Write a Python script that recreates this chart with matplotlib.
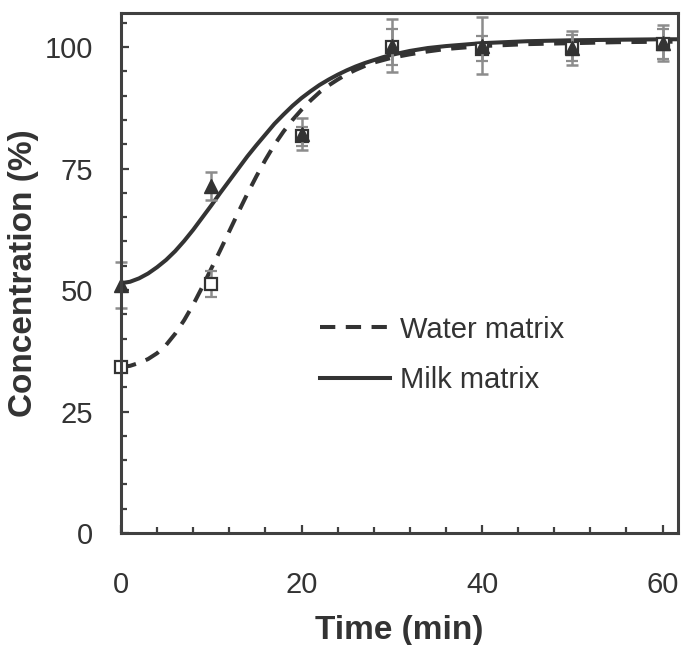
import matplotlib.pyplot as plt
from matplotlib.ticker import MultipleLocator

plt.rcParams['font.family'] = ['Liberation Sans', 'DejaVu Sans']

# sampled times
t_pts = [0, 10, 20, 30, 40, 50, 60]
water_pts = [34.2, 51.3, 81.6, 100.0, 99.7, 99.8, 100.6]
water_err = [1.0, 2.7, 1.9, 3.7, 2.6, 2.7, 3.1]
milk_pts = [51.0, 71.4, 82.1, 100.3, 100.3, 99.9, 100.9]
milk_err = [4.7, 2.8, 3.2, 5.4, 5.8, 3.5, 3.7]

# fitted curves
t_fit = list(range(0, 31)) + [32, 34, 36, 38, 40, 45, 50, 55, 60, 61.7]
water_fit = [34.2, 34.4, 35.0, 35.8, 37.0, 38.7, 41.0, 43.8, 47.0, 50.6,
             54.4, 58.2, 62.1, 66.0, 69.8, 73.4, 76.8, 79.9, 82.6, 85.0,
             87.1, 89.0, 90.7, 92.1, 93.3, 94.4, 95.3, 96.1, 96.8, 97.3,
             97.8, 98.5, 99.1, 99.6, 99.9, 100.2, 100.6, 100.8, 101.0, 101.1, 101.1]
milk_fit = [51.4, 51.7, 52.4, 53.4, 54.7, 56.2, 58.0, 60.1, 62.4, 64.9,
            67.4, 70.0, 72.5, 75.0, 77.5, 79.8, 82.0, 84.2, 86.1, 87.9,
            89.5, 90.9, 92.2, 93.3, 94.3, 95.2, 96.0, 96.7, 97.3, 97.9,
            98.4, 99.2, 99.8, 100.2, 100.5, 100.8, 101.2, 101.4, 101.5, 101.6, 101.6]

dark = '#333333'
grey = '#8c8c8c'

fig = plt.figure(figsize=(6.82, 6.45), dpi=100)
ax = fig.add_axes([0.1774, 0.1736, 0.8166, 0.8062])

ax.plot(t_fit, water_fit, color=dark, lw=2.9, dashes=(3.8, 2.6), label='Water matrix', zorder=3)
ax.plot(t_fit, milk_fit, color=dark, lw=2.9, label='Milk matrix', zorder=3)

ax.errorbar(t_pts, water_pts, yerr=water_err, fmt='s', ms=9, mfc='white', mec=dark, mew=1.6,
            ecolor=grey, elinewidth=1.8, capsize=4.5, capthick=1.8, zorder=4, clip_on=False)
ax.errorbar(t_pts, milk_pts, yerr=milk_err, fmt='^', ms=9.5, mfc=dark, mec=dark,
            ecolor=grey, elinewidth=1.8, capsize=4.5, capthick=1.8, zorder=5, clip_on=False)

ax.set_xlim(0, 61.7)
ax.set_ylim(0, 107)
ax.xaxis.set_major_locator(MultipleLocator(20))
ax.xaxis.set_minor_locator(MultipleLocator(4))
ax.yaxis.set_major_locator(MultipleLocator(25))
ax.yaxis.set_minor_locator(MultipleLocator(5))
ax.tick_params(which='both', direction='in', color='#404040', width=1.6, labelsize=21,
               labelcolor=dark)
ax.tick_params(which='major', length=6, pad=20)
ax.tick_params(which='minor', length=4.5)
ax.tick_params(axis='x', which='both', top=False, pad=27)
for s in ax.spines.values():
    s.set_color('#404040')
    s.set_linewidth(2.2)
    s.set_zorder(6)

ax.set_xlabel('Time (min)', fontsize=24, fontweight='bold', color=dark, labelpad=12)
ax.set_ylabel('Concentration (%)', fontsize=24, fontweight='bold', color=dark, labelpad=4)

ax.legend(loc='upper left', bbox_to_anchor=(0.357, 0.418), frameon=False, fontsize=21,
          handlelength=2.4, handletextpad=0.35, labelspacing=0.78, borderpad=0, borderaxespad=0,
          labelcolor=dark)

fig.savefig('out.png', dpi=100)
